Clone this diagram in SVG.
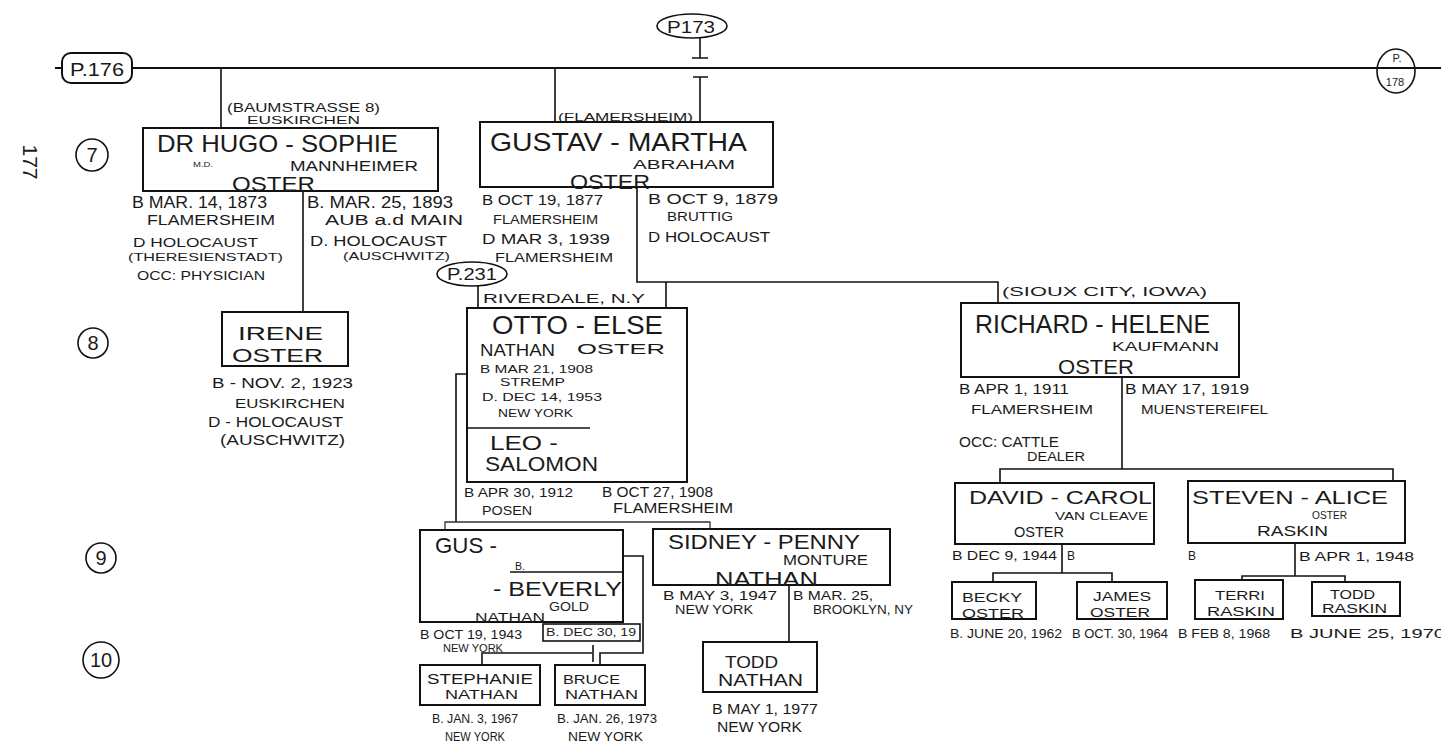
<svg xmlns="http://www.w3.org/2000/svg" width="1441" height="749" viewBox="0 0 1441 749">
<style>
text{font-family:"Liberation Sans",Arial,sans-serif;fill:#1a1a1a;}
.b{fill:none;stroke:#111;stroke-width:2;}
.c{fill:none;stroke:#111;stroke-width:1.6;}
.f{fill:none;stroke:#333;stroke-width:1.3;}
.g{text-anchor:middle;font-size:20px;}
</style>
<rect width="1441" height="749" fill="#fff"/>
<g id="page-number"><text transform="translate(30,162) rotate(90)" x="0" y="7" text-anchor="middle" font-size="21">177</text></g>
<g id="generations">
<circle class="c" cx="92" cy="155" r="16"/><text class="g" x="92" y="162">7</text>
<circle class="c" cx="93" cy="343" r="15"/><text class="g" x="93" y="350">8</text>
<circle class="c" cx="101" cy="558" r="15"/><text class="g" x="101" y="565">9</text>
<circle class="c" cx="101" cy="660" r="18"/><text class="g" x="101" y="667">10</text>
</g>
<g id="connectors">
<path class="b" d="M55,68H62M132,68H1441"/>
<path class="c" d="M700,38V58M692,58H708M693,77H708M700,77V122"/>
<path class="c" d="M221,68V128M555,68V122"/>
<path class="c" d="M303,191V312"/>
<path class="c" d="M637,187V282H998V303"/>
<path class="c" d="M478,286V308M666,282V308"/>
<path class="c" d="M467,374H456V522"/>
<path class="f" d="M445,530V522H710V529"/>
<path class="c" d="M623,556H643V653H600V665"/>
<path class="c" d="M482,665V653H592M593,645V662"/>
<path class="c" d="M789,585V642"/>
<path class="c" d="M1122,377V469M1000,483V469H1393V481"/>
<path class="c" d="M1062,544V573M993,582V573H1112V582"/>
<path class="c" d="M1295,543V576M1242,580V576H1345V582"/>
</g>
<g id="p176"><rect class="b" x="62" y="53" width="70" height="30" rx="9"/><text x="70" y="76" font-size="18" textLength="54" lengthAdjust="spacingAndGlyphs">P.176</text></g>
<g id="p173"><ellipse class="c" cx="692" cy="26" rx="35" ry="12"/><text x="667" y="33" font-size="17" textLength="48" lengthAdjust="spacingAndGlyphs">P173</text></g>
<g id="p178"><ellipse class="c" cx="1396" cy="71" rx="19" ry="22"/><text x="1397" y="62" font-size="11" text-anchor="middle">P.</text><text x="1395" y="86" font-size="11" text-anchor="middle">178</text></g>
<g id="hugo-sophie">
<text x="227" y="112" font-size="12" textLength="153" lengthAdjust="spacingAndGlyphs">(BAUMSTRASSE 8)</text>
<text x="247" y="124" font-size="11" textLength="113" lengthAdjust="spacingAndGlyphs">EUSKIRCHEN</text>
<rect class="b" x="143" y="128" width="295" height="63"/>
<text x="157" y="152" font-size="24" textLength="241" lengthAdjust="spacingAndGlyphs">DR HUGO - SOPHIE</text>
<text x="193" y="167" font-size="8" textLength="20" lengthAdjust="spacingAndGlyphs">M.D.</text>
<text x="290" y="171" font-size="14" textLength="128" lengthAdjust="spacingAndGlyphs">MANNHEIMER</text>
<text x="232" y="191" font-size="21" textLength="83" lengthAdjust="spacingAndGlyphs">OSTER</text>
<text x="132" y="208" font-size="16" textLength="135" lengthAdjust="spacingAndGlyphs">B MAR. 14, 1873</text>
<text x="147" y="225" font-size="14" textLength="128" lengthAdjust="spacingAndGlyphs">FLAMERSHEIM</text>
<text x="133" y="247" font-size="13" textLength="125" lengthAdjust="spacingAndGlyphs">D HOLOCAUST</text>
<text x="128" y="261" font-size="11" textLength="155" lengthAdjust="spacingAndGlyphs">(THERESIENSTADT)</text>
<text x="137" y="280" font-size="13" textLength="128" lengthAdjust="spacingAndGlyphs">OCC: PHYSICIAN</text>
<text x="307" y="208" font-size="16" textLength="146" lengthAdjust="spacingAndGlyphs">B. MAR. 25, 1893</text>
<text x="325" y="225" font-size="14" textLength="138" lengthAdjust="spacingAndGlyphs">AUB a.d MAIN</text>
<text x="310" y="246" font-size="14" textLength="137" lengthAdjust="spacingAndGlyphs">D. HOLOCAUST</text>
<text x="343" y="260" font-size="11" textLength="107" lengthAdjust="spacingAndGlyphs">(AUSCHWITZ)</text>
</g>
<g id="irene">
<rect class="b" x="222" y="312" width="126" height="54"/>
<text x="238" y="340" font-size="19" textLength="85" lengthAdjust="spacingAndGlyphs">IRENE</text>
<text x="232" y="362" font-size="19" textLength="91" lengthAdjust="spacingAndGlyphs">OSTER</text>
<text x="212" y="388" font-size="15" textLength="141" lengthAdjust="spacingAndGlyphs">B - NOV. 2, 1923</text>
<text x="235" y="408" font-size="13" textLength="110" lengthAdjust="spacingAndGlyphs">EUSKIRCHEN</text>
<text x="208" y="427" font-size="15" textLength="135" lengthAdjust="spacingAndGlyphs">D - HOLOCAUST</text>
<text x="220" y="445" font-size="14" textLength="125" lengthAdjust="spacingAndGlyphs">(AUSCHWITZ)</text>
</g>
<g id="gustav-martha">
<text x="558" y="121" font-size="11" textLength="135" lengthAdjust="spacingAndGlyphs">(FLAMERSHEIM)</text>
<rect class="b" x="480" y="122" width="293" height="65"/>
<text x="490" y="151" font-size="25" textLength="257" lengthAdjust="spacingAndGlyphs">GUSTAV - MARTHA</text>
<text x="633" y="169" font-size="12" textLength="102" lengthAdjust="spacingAndGlyphs">ABRAHAM</text>
<text x="570" y="189" font-size="21" textLength="80" lengthAdjust="spacingAndGlyphs">OSTER</text>
<text x="482" y="205" font-size="15" textLength="121" lengthAdjust="spacingAndGlyphs">B OCT 19, 1877</text>
<text x="493" y="224" font-size="12" textLength="105" lengthAdjust="spacingAndGlyphs">FLAMERSHEIM</text>
<text x="482" y="244" font-size="15" textLength="128" lengthAdjust="spacingAndGlyphs">D MAR 3, 1939</text>
<text x="495" y="262" font-size="12" textLength="118" lengthAdjust="spacingAndGlyphs">FLAMERSHEIM</text>
<text x="648" y="204" font-size="15" textLength="130" lengthAdjust="spacingAndGlyphs">B OCT 9, 1879</text>
<text x="667" y="221" font-size="12" textLength="66" lengthAdjust="spacingAndGlyphs">BRUTTIG</text>
<text x="648" y="242" font-size="14" textLength="122" lengthAdjust="spacingAndGlyphs">D HOLOCAUST</text>
</g>
<g id="p231"><ellipse class="c" cx="472" cy="274" rx="35" ry="12"/><text x="447" y="280" font-size="16" textLength="50" lengthAdjust="spacingAndGlyphs">P.231</text></g>
<g id="otto-else">
<text x="483" y="303" font-size="12" textLength="162" lengthAdjust="spacingAndGlyphs">RIVERDALE, N.Y</text>
<rect class="b" x="467" y="308" width="220" height="174"/>
<text x="492" y="334" font-size="26" textLength="171" lengthAdjust="spacingAndGlyphs">OTTO - ELSE</text>
<text x="480" y="356" font-size="17" textLength="75" lengthAdjust="spacingAndGlyphs">NATHAN</text>
<text x="577" y="354" font-size="14" textLength="88" lengthAdjust="spacingAndGlyphs">OSTER</text>
<text x="480" y="373" font-size="11" textLength="113" lengthAdjust="spacingAndGlyphs">B MAR 21, 1908</text>
<text x="500" y="386" font-size="10" textLength="65" lengthAdjust="spacingAndGlyphs">STREMP</text>
<text x="482" y="401" font-size="11" textLength="120" lengthAdjust="spacingAndGlyphs">D. DEC 14, 1953</text>
<text x="498" y="417" font-size="10" textLength="75" lengthAdjust="spacingAndGlyphs">NEW YORK</text>
<path class="c" d="M467,428H590"/>
<text x="490" y="450" font-size="20" textLength="68" lengthAdjust="spacingAndGlyphs">LEO -</text>
<text x="485" y="471" font-size="20" textLength="113" lengthAdjust="spacingAndGlyphs">SALOMON</text>
<text x="464" y="497" font-size="13" textLength="109" lengthAdjust="spacingAndGlyphs">B APR 30, 1912</text>
<text x="482" y="515" font-size="12" textLength="50" lengthAdjust="spacingAndGlyphs">POSEN</text>
<text x="602" y="497" font-size="14" textLength="111" lengthAdjust="spacingAndGlyphs">B OCT 27, 1908</text>
<text x="613" y="513" font-size="14" textLength="120" lengthAdjust="spacingAndGlyphs">FLAMERSHEIM</text>
</g>
<g id="gus-beverly">
<rect class="b" x="420" y="530" width="203" height="92"/>
<text x="435" y="553" font-size="22" textLength="62" lengthAdjust="spacingAndGlyphs">GUS -</text>
<path class="c" d="M510,572H622"/>
<text x="515" y="570" font-size="10" textLength="10" lengthAdjust="spacingAndGlyphs">B.</text>
<text x="493" y="596" font-size="21" textLength="129" lengthAdjust="spacingAndGlyphs">- BEVERLY</text>
<text x="549" y="611" font-size="13" textLength="40" lengthAdjust="spacingAndGlyphs">GOLD</text>
<text x="475" y="622" font-size="13" textLength="70" lengthAdjust="spacingAndGlyphs">NATHAN</text>
<rect class="c" x="543" y="624" width="97" height="17"/>
<text x="546" y="636" font-size="11" textLength="90" lengthAdjust="spacingAndGlyphs">B. DEC 30, 19</text>
<text x="420" y="639" font-size="12" textLength="102" lengthAdjust="spacingAndGlyphs">B OCT 19, 1943</text>
<text x="443" y="652" font-size="11" textLength="60" lengthAdjust="spacingAndGlyphs">NEW YORK</text>
</g>
<g id="stephanie">
<rect class="b" x="420" y="665" width="120" height="40"/>
<text x="427" y="684" font-size="14" textLength="106" lengthAdjust="spacingAndGlyphs">STEPHANIE</text>
<text x="445" y="699" font-size="12" textLength="73" lengthAdjust="spacingAndGlyphs">NATHAN</text>
<text x="432" y="723" font-size="12" textLength="86" lengthAdjust="spacingAndGlyphs">B. JAN. 3, 1967</text>
<text x="445" y="741" font-size="12" textLength="60" lengthAdjust="spacingAndGlyphs">NEW YORK</text>
</g>
<g id="bruce">
<rect class="b" x="555" y="665" width="90" height="40"/>
<text x="563" y="684" font-size="13" textLength="57" lengthAdjust="spacingAndGlyphs">BRUCE</text>
<text x="565" y="699" font-size="12" textLength="73" lengthAdjust="spacingAndGlyphs">NATHAN</text>
<text x="557" y="723" font-size="12" textLength="100" lengthAdjust="spacingAndGlyphs">B. JAN. 26, 1973</text>
<text x="568" y="741" font-size="12" textLength="75" lengthAdjust="spacingAndGlyphs">NEW YORK</text>
</g>
<g id="sidney-penny">
<rect class="b" x="653" y="529" width="237" height="56"/>
<text x="668" y="549" font-size="20" textLength="192" lengthAdjust="spacingAndGlyphs">SIDNEY - PENNY</text>
<text x="783" y="565" font-size="14" textLength="85" lengthAdjust="spacingAndGlyphs">MONTURE</text>
<text x="715" y="586" font-size="21" textLength="103" lengthAdjust="spacingAndGlyphs">NATHAN</text>
<text x="663" y="600" font-size="13" textLength="114" lengthAdjust="spacingAndGlyphs">B MAY 3, 1947</text>
<text x="675" y="614" font-size="12" textLength="78" lengthAdjust="spacingAndGlyphs">NEW YORK</text>
<text x="793" y="600" font-size="13" textLength="80" lengthAdjust="spacingAndGlyphs">B MAR. 25,</text>
<text x="813" y="614" font-size="12" textLength="100" lengthAdjust="spacingAndGlyphs">BROOKLYN, NY</text>
</g>
<g id="todd-nathan">
<rect class="b" x="703" y="642" width="114" height="50"/>
<text x="725" y="668" font-size="17" textLength="53" lengthAdjust="spacingAndGlyphs">TODD</text>
<text x="718" y="686" font-size="17" textLength="85" lengthAdjust="spacingAndGlyphs">NATHAN</text>
<text x="712" y="714" font-size="14" textLength="106" lengthAdjust="spacingAndGlyphs">B MAY 1, 1977</text>
<text x="717" y="732" font-size="14" textLength="85" lengthAdjust="spacingAndGlyphs">NEW YORK</text>
</g>
<g id="richard-helene">
<text x="1002" y="296" font-size="13" textLength="205" lengthAdjust="spacingAndGlyphs">(SIOUX CITY, IOWA)</text>
<rect class="b" x="961" y="303" width="278" height="74"/>
<text x="975" y="333" font-size="25" textLength="235" lengthAdjust="spacingAndGlyphs">RICHARD - HELENE</text>
<text x="1112" y="351" font-size="13" textLength="107" lengthAdjust="spacingAndGlyphs">KAUFMANN</text>
<text x="1058" y="374" font-size="20" textLength="76" lengthAdjust="spacingAndGlyphs">OSTER</text>
<text x="959" y="394" font-size="14" textLength="110" lengthAdjust="spacingAndGlyphs">B APR 1, 1911</text>
<text x="971" y="414" font-size="13" textLength="122" lengthAdjust="spacingAndGlyphs">FLAMERSHEIM</text>
<text x="959" y="447" font-size="14" textLength="100" lengthAdjust="spacingAndGlyphs">OCC: CATTLE</text>
<text x="1027" y="461" font-size="12" textLength="58" lengthAdjust="spacingAndGlyphs">DEALER</text>
<text x="1125" y="394" font-size="14" textLength="124" lengthAdjust="spacingAndGlyphs">B MAY 17, 1919</text>
<text x="1141" y="414" font-size="13" textLength="127" lengthAdjust="spacingAndGlyphs">MUENSTEREIFEL</text>
</g>
<g id="david-carol">
<rect class="b" x="955" y="483" width="199" height="61"/>
<text x="969" y="504" font-size="18" textLength="183" lengthAdjust="spacingAndGlyphs">DAVID - CAROL</text>
<text x="1055" y="520" font-size="11" textLength="93" lengthAdjust="spacingAndGlyphs">VAN CLEAVE</text>
<text x="1014" y="537" font-size="14" textLength="50" lengthAdjust="spacingAndGlyphs">OSTER</text>
<text x="952" y="560" font-size="12" textLength="105" lengthAdjust="spacingAndGlyphs">B DEC 9, 1944</text>
<text x="1067" y="560" font-size="12">B</text>
</g>
<g id="steven-alice">
<rect class="b" x="1188" y="481" width="217" height="62"/>
<text x="1192" y="504" font-size="18" textLength="196" lengthAdjust="spacingAndGlyphs">STEVEN - ALICE</text>
<text x="1312" y="519" font-size="10" textLength="35" lengthAdjust="spacingAndGlyphs">OSTER</text>
<text x="1257" y="536" font-size="15" textLength="71" lengthAdjust="spacingAndGlyphs">RASKIN</text>
<text x="1188" y="560" font-size="12">B</text>
<text x="1299" y="561" font-size="13" textLength="115" lengthAdjust="spacingAndGlyphs">B APR 1, 1948</text>
</g>
<g id="becky">
<rect class="b" x="952" y="582" width="84" height="37"/>
<text x="962" y="602" font-size="13" textLength="60" lengthAdjust="spacingAndGlyphs">BECKY</text>
<text x="962" y="618" font-size="13" textLength="62" lengthAdjust="spacingAndGlyphs">OSTER</text>
<text x="950" y="638" font-size="12" textLength="112" lengthAdjust="spacingAndGlyphs">B. JUNE 20, 1962</text>
</g>
<g id="james">
<rect class="b" x="1077" y="582" width="90" height="37"/>
<text x="1093" y="601" font-size="13" textLength="58" lengthAdjust="spacingAndGlyphs">JAMES</text>
<text x="1090" y="617" font-size="13" textLength="60" lengthAdjust="spacingAndGlyphs">OSTER</text>
<text x="1072" y="638" font-size="12" textLength="96" lengthAdjust="spacingAndGlyphs">B OCT. 30, 1964</text>
</g>
<g id="terri">
<rect class="b" x="1195" y="580" width="88" height="39"/>
<text x="1215" y="600" font-size="13" textLength="50" lengthAdjust="spacingAndGlyphs">TERRI</text>
<text x="1207" y="616" font-size="13" textLength="68" lengthAdjust="spacingAndGlyphs">RASKIN</text>
<text x="1178" y="638" font-size="12" textLength="92" lengthAdjust="spacingAndGlyphs">B FEB 8, 1968</text>
</g>
<g id="todd-raskin">
<rect class="b" x="1312" y="582" width="88" height="34"/>
<text x="1330" y="599" font-size="12" textLength="45" lengthAdjust="spacingAndGlyphs">TODD</text>
<text x="1322" y="613" font-size="12" textLength="65" lengthAdjust="spacingAndGlyphs">RASKIN</text>
<text x="1290" y="638" font-size="12" textLength="155" lengthAdjust="spacingAndGlyphs">B JUNE 25, 1970</text>
</g>
</svg>
